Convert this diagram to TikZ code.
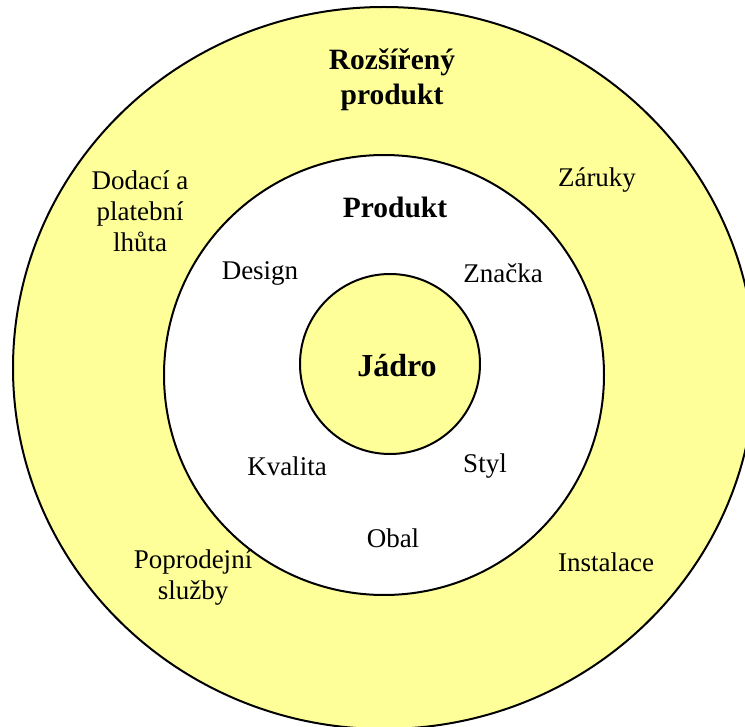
\documentclass[tikz,border=0pt]{standalone}
\usepackage{fontspec}
\setmainfont{Liberation Serif}
\usetikzlibrary{shapes.geometric, positioning}
\definecolor{ringyellow}{HTML}{FFFF99}
\tikzstyle{ring} = [draw, line width=2pt, inner sep=0pt]
\tikzstyle{plain} = [align=center, inner sep=0pt, font=\fontsize{27}{31}\selectfont]
\tikzstyle{heading} = [align=center, inner sep=0pt, font=\fontsize{29.5}{35}\selectfont\bfseries]

\begin{document}
\begin{tikzpicture}[x=1pt, y=-1pt]
	\clip (0, 0) rectangle (745, 727);
	\node [ring, ellipse, fill=ringyellow, minimum width=742pt, minimum height=722pt] (outer) at (384, 368) {};
	\node [ring, circle, fill=white, minimum size=440pt] (middle) at (384, 375) {};
	\node [ring, circle, fill=ringyellow, minimum size=180pt] (core) at (390, 364) {};

	% rozsireny produkt
	\node [heading] (rozsireny) at (392, 80) {Rozšířený\\produkt};
	\node [plain] (dodaci) at (140, 211) {Dodací a\\platební\\lhůta};
	\node [plain] (zaruky) at (597, 180) {Záruky};
	\node [plain] (poprodejni) at (193, 578) {Poprodejní\\služby};
	\node [plain] (instalace) at (606, 562) {Instalace};

	% produkt
	\node [heading] (produkt) at (395, 207) {Produkt};
	\node [plain] (design) at (260, 273) {Design};
	\node [plain] (znacka) at (503, 273) {Značka};
	\node [plain] (kvalita) at (287, 466) {Kvalita};
	\node [plain] (styl) at (485, 466) {Styl};
	\node [plain] (obal) at (393, 538) {Obal};

	% jadro
	\node [heading, font=\fontsize{32}{38}\selectfont\bfseries] (jadro) at (397, 366) {Jádro};
\end{tikzpicture}
\end{document}
